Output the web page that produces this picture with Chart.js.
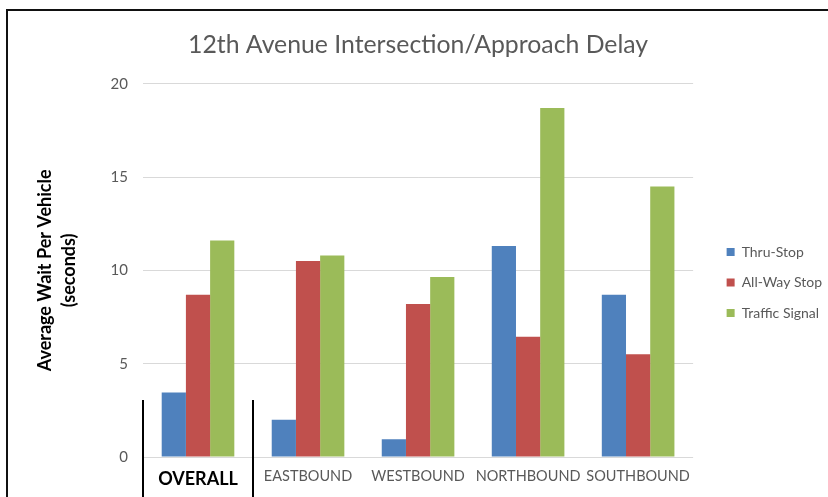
<!DOCTYPE html>
<html>
<head>
<meta charset="utf-8">
<script src="https://cdn.jsdelivr.net/npm/chart.js@4.4.1/dist/chart.umd.min.js"></script>
<style>
  html, body { margin: 0; padding: 0; background: #fff; }
  #wrap { position: relative; width: 828px; height: 497px; overflow: hidden; }
  #frameTop { position: absolute; left: 6px; top: 9px; width: 822px; height: 2px; background: #111; }
  #frameLeft { position: absolute; left: 6px; top: 9px; width: 2px; height: 488px; background: #111; }
  canvas { position: absolute; left: 0; top: 0; }
</style>
</head>
<body>
<div id="wrap">
  <canvas id="c" width="828" height="497"></canvas>
  <div id="frameTop"></div>
  <div id="frameLeft"></div>
</div>
<script>
const categories = ['OVERALL', 'EASTBOUND', 'WESTBOUND', 'NORTHBOUND', 'SOUTHBOUND'];
const thruStop = [3.45, 2.0, 0.95, 11.3, 8.7];
const allWayStop = [8.7, 10.5, 8.2, 6.45, 5.5];
const trafficSignal = [11.6, 10.8, 9.65, 18.7, 14.5];
const seriesNames = ['Thru-Stop', 'All-Way Stop', 'Traffic Signal'];
const yTicks = [0, 5, 10, 15, 20];
const titleText = '12th Avenue Intersection/Approach Delay';
const yTitle = ['Average Wait Per Vehicle', '(seconds)'];

const FONT = 'Lato, "Open Sans", sans-serif';

const separatorPlugin = {
  id: 'separators',
  afterDraw(chart) {
    const x = chart.scales.x, y = chart.scales.y;
    const ctx = chart.ctx;
    const half = (x.getPixelForValue(1) - x.getPixelForValue(0)) / 2;
    const xs = [x.getPixelForValue(0) - half, x.getPixelForValue(0) + half];
    const top = y.getPixelForValue(3.05);
    ctx.save();
    ctx.strokeStyle = '#000';
    ctx.lineWidth = 2;
    xs.forEach(px => {
      ctx.beginPath();
      ctx.moveTo(Math.round(px), top);
      ctx.lineTo(Math.round(px), chart.height);
      ctx.stroke();
    });
    ctx.restore();
  }
};

new Chart(document.getElementById('c'), {
  type: 'bar',
  data: {
    labels: categories,
    datasets: [
      { label: seriesNames[0], data: thruStop, backgroundColor: '#4f81bd' },
      { label: seriesNames[1], data: allWayStop, backgroundColor: '#c0504d' },
      { label: seriesNames[2], data: trafficSignal, backgroundColor: '#9bbb59' }
    ]
  },
  options: {
    responsive: false,
    animation: false,
    layout: { padding: { left: 33, right: -4, top: 0, bottom: 0 } },
    datasets: { bar: { categoryPercentage: 0.66, barPercentage: 1.0 } },
    plugins: {
      title: {
        display: true,
        fullSize: false,
        text: titleText,
        color: '#595959',
        font: { family: FONT, size: 24.8, weight: 'normal' },
        padding: { top: 30, bottom: 24 }
      },
      legend: {
        position: 'right',
        title: { display: true, text: ' ', padding: { top: 56, bottom: 0 }, font: { size: 10 } },
        labels: {
          boxWidth: 8,
          boxHeight: 8,
          padding: 16.5,
          color: '#595959',
          font: { family: FONT, size: 14 }
        }
      },
      tooltip: { enabled: false }
    },
    scales: {
      x: {
        grid: { display: false, drawTicks: false },
        border: { display: false },
        afterFit: (s) => { s.height = 40; },
        ticks: {
          padding: 11,
          autoSkip: false,
          maxRotation: 0,
          minRotation: 0,
          color: (c) => c.index === 0 ? '#000' : '#595959',
          font: (c) => c.index === 0
            ? { family: FONT, size: 18, weight: 'bold' }
            : { family: FONT, size: 14.5 }
        }
      },
      y: {
        min: 0,
        max: 20,
        afterBuildTicks: (s) => { s.ticks = yTicks.map(v => ({ value: v })); },
        grid: { color: '#d9d9d9', lineWidth: 1, drawTicks: false },
        border: { display: false },
        ticks: {
          padding: 15,
          color: '#595959',
          font: { family: FONT, size: 15 }
        },
        title: {
          display: true,
          text: yTitle,
          color: '#000',
          font: { family: FONT, size: 18, weight: 'bold', lineHeight: 1.35 },
          padding: { top: 0, bottom: 14 }
        }
      },
      yRightGap: {
        type: 'linear',
        position: 'right',
        display: true,
        grid: { display: false },
        border: { display: false },
        ticks: { display: false },
        afterFit: (s) => { s.width = 17; }
      }
    }
  },
  plugins: [separatorPlugin]
});
</script>
</body>
</html>
